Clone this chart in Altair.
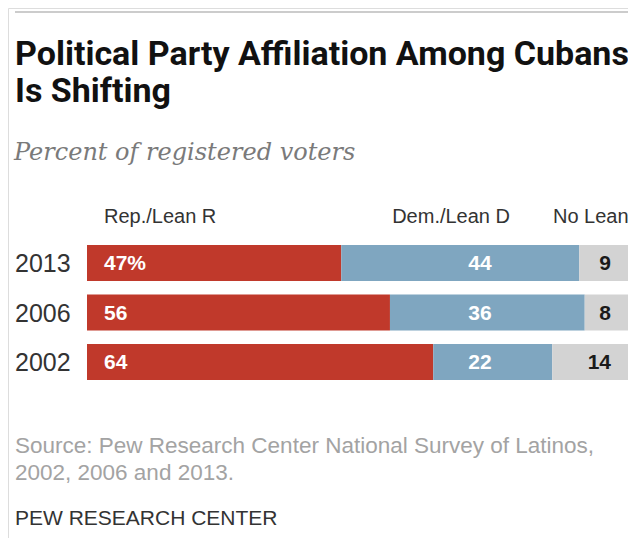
import altair as alt
import pandas as pd

# ---- data ----
years = ["2013", "2006", "2002"]
categories = ["Rep./Lean R", "Dem./Lean D", "No Lean"]
rep_values = [47, 56, 64]
dem_values = [44, 36, 22]
nolean_values = [9, 8, 14]
rep_labels = ["47%", "56", "64"]
dem_labels = ["44", "36", "22"]
nolean_labels = ["9", "8", "14"]

title_lines = ["Political Party Affiliation Among Cubans", "Is Shifting"]
subtitle = "Percent of registered voters"
source_lines = ["Source: Pew Research Center National Survey of Latinos,",
                "2002, 2006 and 2013."]
credit = "PEW RESEARCH CENTER"

colors = ["#C0392B", "#7FA6C0", "#D3D3D3"]

W, H = 620, 530
SANS = "Liberation Sans, Arial, sans-serif"
TITLE_FONT = "Roboto, Liberation Sans, sans-serif"

rows = []
for i, y in enumerate(years):
    for j, (c, v) in enumerate(zip(categories, [rep_values[i], dem_values[i], nolean_values[i]])):
        rows.append({"year": y, "cat": c, "order": j, "value": v})
df = pd.DataFrame(rows)

lab = pd.DataFrame({
    "year": years,
    "rep": rep_labels,
    "dem": dem_labels,
    "nolean": nolean_labels,
})

xscale = alt.Scale(domain=[0, 100], range=[79, 620], nice=False, zero=True)
yscale = alt.Scale(domain=years, range=[230.25, 378.75], paddingInner=0.2727, paddingOuter=0.1364)

bars = alt.Chart(df).mark_bar().encode(
    x=alt.X("value:Q", stack="zero", scale=xscale, axis=None),
    y=alt.Y("year:N", scale=yscale, axis=None, sort=years),
    color=alt.Color("cat:N", scale=alt.Scale(domain=categories, range=colors), legend=None),
    order=alt.Order("order:Q"),
)

ybase = alt.Chart(lab).encode(y=alt.Y("year:N", scale=yscale, axis=None, sort=years))

year_text = ybase.mark_text(align="left", baseline="middle", dy=1, fontSize=25,
                            font=SANS, color="#333333").encode(
    x=alt.value(7), text="year:N")
rep_text = ybase.mark_text(align="left", baseline="middle", dy=1, fontSize=21, fontWeight="bold",
                           font=SANS, color="white").encode(
    x=alt.value(96), text="rep:N")
dem_text = ybase.mark_text(align="center", baseline="middle", dy=1, fontSize=21, fontWeight="bold",
                           font=SANS, color="white").encode(
    x=alt.value(472), text="dem:N")
nl_text = ybase.mark_text(align="right", baseline="middle", dy=1, fontSize=21, fontWeight="bold",
                          font=SANS, color="#1a1a1a").encode(
    x=alt.value(603), text="nolean:N")

def label(text, x, y, size, color, align="left", weight="normal", font=SANS, style="normal"):
    return alt.Chart(pd.DataFrame({"t": [text]})).mark_text(
        align=align, baseline="alphabetic", fontSize=size, fontWeight=weight,
        font=font, color=color, fontStyle=style,
    ).encode(text="t:N", x=alt.value(x), y=alt.value(y))

top_rule = alt.Chart(pd.DataFrame({"a": [0]})).mark_rule(color="#cccccc", strokeWidth=2).encode(
    x=alt.value(7), x2=alt.value(W), y=alt.value(4))

layers = [
    top_rule,
    label(title_lines[0], 7, 57, 34, "#111111", weight="bold", font=TITLE_FONT),
    label(title_lines[1], 7, 94, 34, "#111111", weight="bold", font=TITLE_FONT),
    label(subtitle, 6, 152, 24, "#7a7a7a", font="DejaVu Serif, serif", style="italic"),
    label(categories[0], 96, 215, 20, "#333333"),
    label(categories[1], 502, 215, 20, "#333333", align="right"),
    label(categories[2], 545, 215, 20, "#333333"),
    bars, year_text, rep_text, dem_text, nl_text,
    label(source_lines[0], 7, 445, 22.5, "#a3a3a3"),
    label(source_lines[1], 7, 472, 22.5, "#a3a3a3"),
    label(credit, 7, 517, 21, "#333333"),
]

chart = alt.layer(*layers).properties(
    width=W, height=H,
    autosize=alt.AutoSizeParams(type="none"),
    padding=0,
).configure_view(stroke=None).configure(background="white")

chart.save("out.html", embed_options={"renderer": "svg", "actions": False})
